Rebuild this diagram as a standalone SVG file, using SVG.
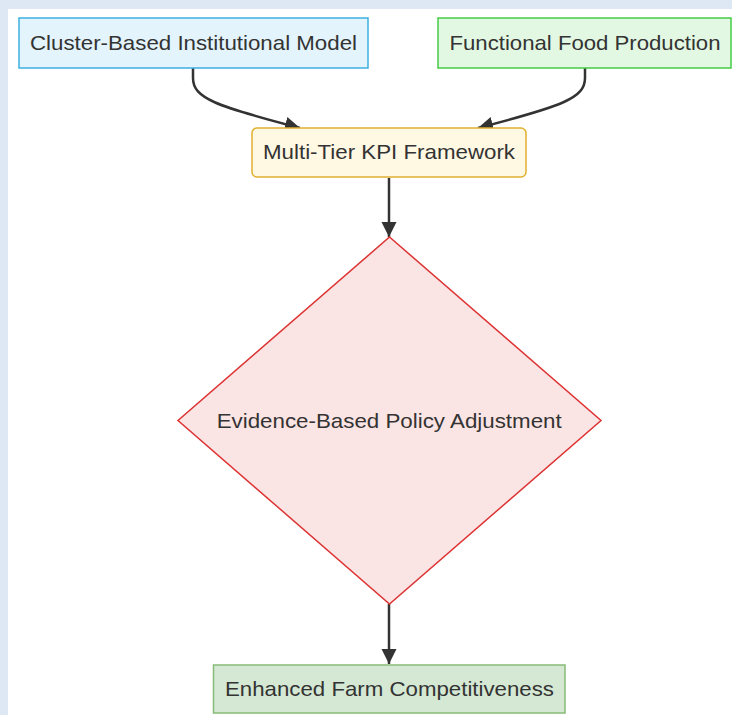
<svg xmlns="http://www.w3.org/2000/svg" width="732" height="715" viewBox="0 0 732 715">
<defs>
<style>
.lbl{font-family:"Liberation Sans",Arial,sans-serif;font-size:21px;fill:#333;text-anchor:middle}
.edge{fill:none;stroke:#333;stroke-width:2.5}
</style>
<marker id="ah" viewBox="0 0 10 10" refX="10" refY="5" markerUnits="userSpaceOnUse" markerWidth="15" markerHeight="16" orient="auto">
<path d="M0,0 L10,5 L0,10 z" fill="#333"/>
</marker>
</defs>
<rect x="0" y="0" width="732" height="715" fill="#dde8f4"/>
<rect x="8" y="9" width="724" height="706" fill="#ffffff"/>
<g id="connectors">
<path class="edge" d="M193,68 L193,78 C193,98 215,106 300,128" marker-end="url(#ah)"/>
<path class="edge" d="M585,68 L585,78 C585,98 563,106 478,128" marker-end="url(#ah)"/>
<path class="edge" d="M389,178 L389,237" marker-end="url(#ah)"/>
<path class="edge" d="M389,604 L389,664" marker-end="url(#ah)"/>
</g>
<g id="cluster">
<rect x="19" y="18" width="349" height="50" fill="#e3f4fc" stroke="#3cb0e0" stroke-width="1.5"/>
<text class="lbl" x="193.5" y="50" textLength="327" lengthAdjust="spacingAndGlyphs">Cluster-Based Institutional Model</text>
</g>
<g id="functional">
<rect x="438" y="18" width="293" height="50" fill="#e3f8e3" stroke="#44cc44" stroke-width="1.5"/>
<text class="lbl" x="585" y="50" textLength="271" lengthAdjust="spacingAndGlyphs">Functional Food Production</text>
</g>
<g id="kpi">
<rect x="252" y="128" width="274" height="49" rx="5" ry="5" fill="#fff8e3" stroke="#e0b030" stroke-width="1.5"/>
<text class="lbl" x="389" y="159" textLength="252" lengthAdjust="spacingAndGlyphs">Multi-Tier KPI Framework</text>
</g>
<g id="policy">
<polygon points="389.5,237 601,420.5 389.5,604 178,420.5" fill="#fbe4e4" stroke="#dd3333" stroke-width="1.5"/>
<text class="lbl" x="389.2" y="428" textLength="345" lengthAdjust="spacingAndGlyphs">Evidence-Based Policy Adjustment</text>
</g>
<g id="enhanced">
<rect x="213.5" y="665" width="351.5" height="48" fill="#d5e8d4" stroke="#88bb77" stroke-width="1.5"/>
<text class="lbl" x="389.5" y="696" textLength="329" lengthAdjust="spacingAndGlyphs">Enhanced Farm Competitiveness</text>
</g>
</svg>
